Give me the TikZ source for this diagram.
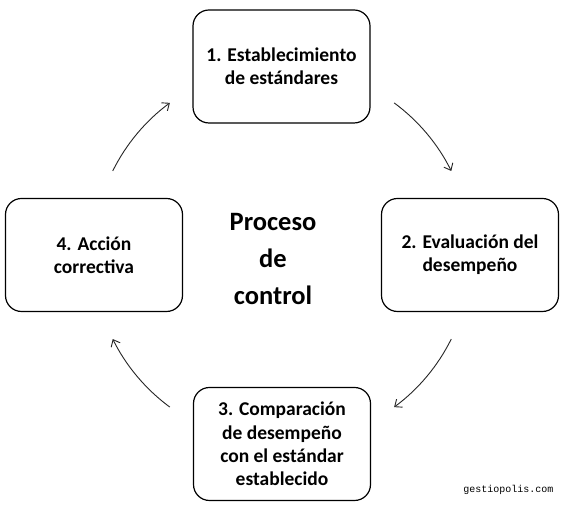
\documentclass[tikz,border=0pt]{standalone}
\usepackage{fontspec}
\setmainfont{Carlito}
\newfontfamily\wmfont{Liberation Mono}
\usetikzlibrary{arrows.meta,calc}
\tikzset{
  stagebox/.style={draw=black, line width=1.2pt, rounded corners=16pt, fill=white,
    minimum width=177pt, minimum height=113pt, inner sep=0pt, align=center,
    font=\fontsize{19.5}{23.3}\selectfont\bfseries},
  cyclearrow/.style={draw=black!85, line width=0.9pt, -{Straight Barb[length=6pt,width=10pt,line width=0.9pt]}},
}
\begin{document}
\begin{tikzpicture}[x=1pt,y=1pt]
\useasboundingbox[fill=white] (0,0) rectangle (565,505);
\node[stagebox] (s1) at (281.5,438.5) {1. Establecimiento\\de estándares};
\node[stagebox] (s2) at (470,250) {2. Evaluación del\\desempeño};
\node[stagebox] (s3) at (282,61) {3. Comparación\\de desempeño\\con el estándar\\establecido};
\node[stagebox] (s4) at (94,250) {4. Acción\\correctiva};
\node[align=center, font=\fontsize{26.5}{37}\selectfont\bfseries] (ctr) at (273,246) {Proceso\\de\\control};
\node[font=\wmfont\fontsize{10}{12}\selectfont, anchor=east] (wm) at (557,15) {gestiopolis.com};
\coordinate (o) at (282,250);
\coordinate (a1) at ($(o)+(53.6:189)$);
\coordinate (a2) at ($(o)+(-26.4:189)$);
\coordinate (a3) at ($(o)+(-126.4:189)$);
\coordinate (a4) at ($(o)+(153.6:189)$);
\draw[cyclearrow] (a1) arc[start angle=53.6, end angle=26.4, radius=189];
\draw[cyclearrow] (a2) arc[start angle=-26.4, end angle=-53.6, radius=189];
\draw[cyclearrow] (a3) arc[start angle=-126.4, end angle=-153.6, radius=189];
\draw[cyclearrow] (a4) arc[start angle=153.6, end angle=126.4, radius=189];
\end{tikzpicture}
\end{document}
